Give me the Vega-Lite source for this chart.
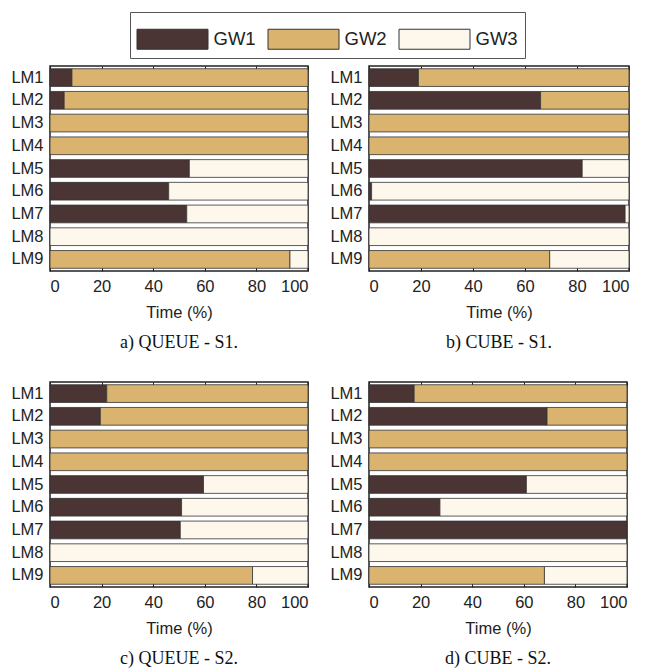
{
  "$schema": "https://vega.github.io/schema/vega-lite/v6.json",
  "background": "white",
  "padding": {"left": 10, "top": 11, "right": 5, "bottom": 5},
  "data": {"values": [
    {"panel":"a","lm":"LM1","gw":"GW1","v":8.5},{"panel":"a","lm":"LM1","gw":"GW2","v":91.5},
    {"panel":"a","lm":"LM2","gw":"GW1","v":5.5},{"panel":"a","lm":"LM2","gw":"GW2","v":94.5},
    {"panel":"a","lm":"LM3","gw":"GW2","v":100},
    {"panel":"a","lm":"LM4","gw":"GW2","v":100},
    {"panel":"a","lm":"LM5","gw":"GW1","v":54},{"panel":"a","lm":"LM5","gw":"GW3","v":46},
    {"panel":"a","lm":"LM6","gw":"GW1","v":46},{"panel":"a","lm":"LM6","gw":"GW3","v":54},
    {"panel":"a","lm":"LM7","gw":"GW1","v":53},{"panel":"a","lm":"LM7","gw":"GW3","v":47},
    {"panel":"a","lm":"LM8","gw":"GW3","v":100},
    {"panel":"a","lm":"LM9","gw":"GW2","v":93},{"panel":"a","lm":"LM9","gw":"GW3","v":7},

    {"panel":"b","lm":"LM1","gw":"GW1","v":19},{"panel":"b","lm":"LM1","gw":"GW2","v":81},
    {"panel":"b","lm":"LM2","gw":"GW1","v":66},{"panel":"b","lm":"LM2","gw":"GW2","v":34},
    {"panel":"b","lm":"LM3","gw":"GW2","v":100},
    {"panel":"b","lm":"LM4","gw":"GW2","v":100},
    {"panel":"b","lm":"LM5","gw":"GW1","v":82},{"panel":"b","lm":"LM5","gw":"GW3","v":18},
    {"panel":"b","lm":"LM6","gw":"GW1","v":1},{"panel":"b","lm":"LM6","gw":"GW3","v":99},
    {"panel":"b","lm":"LM7","gw":"GW1","v":98.5},{"panel":"b","lm":"LM7","gw":"GW3","v":1.5},
    {"panel":"b","lm":"LM8","gw":"GW3","v":100},
    {"panel":"b","lm":"LM9","gw":"GW2","v":69.5},{"panel":"b","lm":"LM9","gw":"GW3","v":30.5},

    {"panel":"c","lm":"LM1","gw":"GW1","v":22},{"panel":"c","lm":"LM1","gw":"GW2","v":78},
    {"panel":"c","lm":"LM2","gw":"GW1","v":19.5},{"panel":"c","lm":"LM2","gw":"GW2","v":80.5},
    {"panel":"c","lm":"LM3","gw":"GW2","v":100},
    {"panel":"c","lm":"LM4","gw":"GW2","v":100},
    {"panel":"c","lm":"LM5","gw":"GW1","v":59.5},{"panel":"c","lm":"LM5","gw":"GW3","v":40.5},
    {"panel":"c","lm":"LM6","gw":"GW1","v":51},{"panel":"c","lm":"LM6","gw":"GW3","v":49},
    {"panel":"c","lm":"LM7","gw":"GW1","v":50.5},{"panel":"c","lm":"LM7","gw":"GW3","v":49.5},
    {"panel":"c","lm":"LM8","gw":"GW3","v":100},
    {"panel":"c","lm":"LM9","gw":"GW2","v":78.5},{"panel":"c","lm":"LM9","gw":"GW3","v":21.5},

    {"panel":"d","lm":"LM1","gw":"GW1","v":17.5},{"panel":"d","lm":"LM1","gw":"GW2","v":82.5},
    {"panel":"d","lm":"LM2","gw":"GW1","v":69},{"panel":"d","lm":"LM2","gw":"GW2","v":31},
    {"panel":"d","lm":"LM3","gw":"GW2","v":100},
    {"panel":"d","lm":"LM4","gw":"GW2","v":100},
    {"panel":"d","lm":"LM5","gw":"GW1","v":61},{"panel":"d","lm":"LM5","gw":"GW3","v":39},
    {"panel":"d","lm":"LM6","gw":"GW1","v":27.5},{"panel":"d","lm":"LM6","gw":"GW3","v":72.5},
    {"panel":"d","lm":"LM7","gw":"GW1","v":100},
    {"panel":"d","lm":"LM8","gw":"GW3","v":100},
    {"panel":"d","lm":"LM9","gw":"GW2","v":68},{"panel":"d","lm":"LM9","gw":"GW3","v":32}
  ]},
  "columns": 2,
  "spacing": {"column": 19, "row": 27},
  "config": {
    "font": "Liberation Sans",
    "view": {"stroke": "#222", "strokeWidth": 1.5},
    "axis": {"labelFont": "Liberation Sans", "labelFontSize": 16.5, "labelColor": "#222", "titleFont": "Liberation Sans", "titleFontSize": 16.5, "titleFontWeight": "normal", "titleColor": "#222", "grid": false, "domain": false},
    "title": {"font": "Liberation Serif", "fontSize": 18, "fontWeight": "normal", "color": "#111", "orient": "bottom", "offset": 13},
    "legend": {"orient": "none", "legendX": 80, "legendY": -54, "direction": "horizontal", "labelFont": "Liberation Sans", "labelFontSize": 18.5, "labelColor": "#222", "symbolType": "M-1,-0.5H2.55V0.5H-1Z", "symbolSize": 1600, "symbolStrokeColor": "#333", "symbolStrokeWidth": 1, "symbolOpacity": 1, "strokeColor": "#555", "padding": 6.5, "columnPadding": 9, "labelOffset": 36, "title": null}
  },
  "concat": [
    {"title": "a) QUEUE - S1.", "width": 258, "height": 205, "transform": [{"filter": "datum.panel === 'a'"}],
     "layer": [
      {"mark": {"type": "bar", "stroke": "#333", "strokeWidth": 0.8},
       "encoding": {
        "y": {"field": "lm", "type": "nominal", "title": null, "scale": {"paddingInner": 0.22, "paddingOuter": 0.12}, "axis": {"ticks": false, "labelPadding": 7}},
        "x": {"field": "v", "type": "quantitative", "stack": "zero", "scale": {"domain": [0, 100], "nice": false}, "title": "Time (%)", "axis": {"values": [0,20,40,60,80,100], "tickSize": -4, "tickColor": "#222", "labelPadding": 11, "titlePadding": 10, "titleFontSize": 16.5}},
        "color": {"field": "gw", "type": "nominal", "scale": {"domain": ["GW1","GW2","GW3"], "range": ["#4b3434", "#dab36f", "#fef8ec"]}},
        "order": {"field": "gw"}
       }},
      {"mark": {"type": "bar", "opacity": 0},
       "encoding": {
        "y": {"field": "lm", "type": "nominal"},
        "x": {"field": "v", "type": "quantitative", "stack": "zero", "axis": {"orient": "top", "values": [0,20,40,60,80,100], "labels": false, "title": null, "tickSize": -4, "tickColor": "#222"}},
        "order": {"field": "gw"}
       }}
     ], "resolve": {"axis": {"x": "independent"}}},
    {"title": "b) CUBE - S1.", "width": 260, "height": 205, "transform": [{"filter": "datum.panel === 'b'"}],
     "layer": [
      {"mark": {"type": "bar", "stroke": "#333", "strokeWidth": 0.8},
       "encoding": {
        "y": {"field": "lm", "type": "nominal", "title": null, "scale": {"paddingInner": 0.22, "paddingOuter": 0.12}, "axis": {"ticks": false, "labelPadding": 7}},
        "x": {"field": "v", "type": "quantitative", "stack": "zero", "scale": {"domain": [0, 100], "nice": false}, "title": "Time (%)", "axis": {"values": [0,20,40,60,80,100], "tickSize": -4, "tickColor": "#222", "labelPadding": 11, "titlePadding": 10, "titleFontSize": 16.5}},
        "color": {"field": "gw", "type": "nominal", "scale": {"domain": ["GW1","GW2","GW3"], "range": ["#4b3434", "#dab36f", "#fef8ec"]}},
        "order": {"field": "gw"}
       }},
      {"mark": {"type": "bar", "opacity": 0},
       "encoding": {
        "y": {"field": "lm", "type": "nominal"},
        "x": {"field": "v", "type": "quantitative", "stack": "zero", "axis": {"orient": "top", "values": [0,20,40,60,80,100], "labels": false, "title": null, "tickSize": -4, "tickColor": "#222"}},
        "order": {"field": "gw"}
       }}
     ], "resolve": {"axis": {"x": "independent"}}},
    {"title": "c) QUEUE - S2.", "width": 258, "height": 205, "transform": [{"filter": "datum.panel === 'c'"}],
     "layer": [
      {"mark": {"type": "bar", "stroke": "#333", "strokeWidth": 0.8},
       "encoding": {
        "y": {"field": "lm", "type": "nominal", "title": null, "scale": {"paddingInner": 0.22, "paddingOuter": 0.12}, "axis": {"ticks": false, "labelPadding": 7}},
        "x": {"field": "v", "type": "quantitative", "stack": "zero", "scale": {"domain": [0, 100], "nice": false}, "title": "Time (%)", "axis": {"values": [0,20,40,60,80,100], "tickSize": -4, "tickColor": "#222", "labelPadding": 11, "titlePadding": 10, "titleFontSize": 16.5}},
        "color": {"field": "gw", "type": "nominal", "scale": {"domain": ["GW1","GW2","GW3"], "range": ["#4b3434", "#dab36f", "#fef8ec"]}},
        "order": {"field": "gw"}
       }},
      {"mark": {"type": "bar", "opacity": 0},
       "encoding": {
        "y": {"field": "lm", "type": "nominal"},
        "x": {"field": "v", "type": "quantitative", "stack": "zero", "axis": {"orient": "top", "values": [0,20,40,60,80,100], "labels": false, "title": null, "tickSize": -4, "tickColor": "#222"}},
        "order": {"field": "gw"}
       }}
     ], "resolve": {"axis": {"x": "independent"}}},
    {"title": "d) CUBE - S2.", "width": 258, "height": 205, "transform": [{"filter": "datum.panel === 'd'"}],
     "layer": [
      {"mark": {"type": "bar", "stroke": "#333", "strokeWidth": 0.8},
       "encoding": {
        "y": {"field": "lm", "type": "nominal", "title": null, "scale": {"paddingInner": 0.22, "paddingOuter": 0.12}, "axis": {"ticks": false, "labelPadding": 7}},
        "x": {"field": "v", "type": "quantitative", "stack": "zero", "scale": {"domain": [0, 100], "nice": false}, "title": "Time (%)", "axis": {"values": [0,20,40,60,80,100], "tickSize": -4, "tickColor": "#222", "labelPadding": 11, "titlePadding": 10, "titleFontSize": 16.5}},
        "color": {"field": "gw", "type": "nominal", "scale": {"domain": ["GW1","GW2","GW3"], "range": ["#4b3434", "#dab36f", "#fef8ec"]}},
        "order": {"field": "gw"}
       }},
      {"mark": {"type": "bar", "opacity": 0},
       "encoding": {
        "y": {"field": "lm", "type": "nominal"},
        "x": {"field": "v", "type": "quantitative", "stack": "zero", "axis": {"orient": "top", "values": [0,20,40,60,80,100], "labels": false, "title": null, "tickSize": -4, "tickColor": "#222"}},
        "order": {"field": "gw"}
       }}
     ], "resolve": {"axis": {"x": "independent"}}}
  ]
}
